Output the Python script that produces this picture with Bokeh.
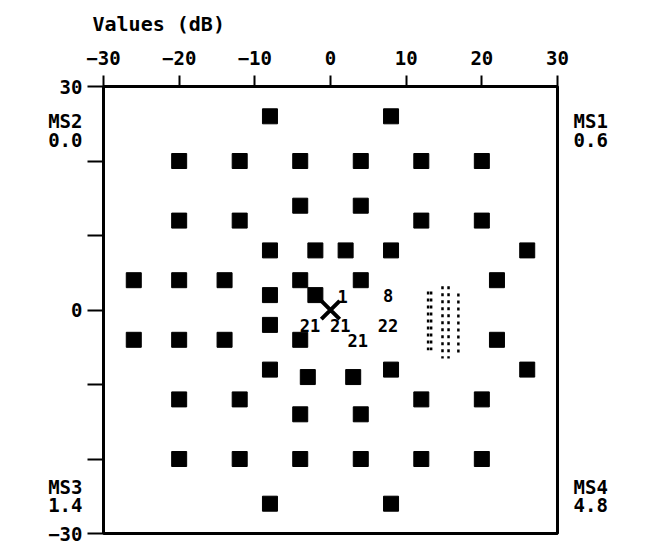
from bokeh.plotting import figure
from bokeh.models import Range1d, FixedTicker, LinearAxis
from bokeh.embed import file_html
from bokeh.resources import INLINE
from bokeh.core.properties import value

# ---- data ----
title_text = "Values (dB)"
x_ticks = [-30, -20, -10, 0, 10, 20, 30]
x_tick_labels = ["−30", "−20", "−10", "0", "10", "20", "30"]
y_ticks = [-30, -20, -10, 0, 10, 20, 30]
y_tick_labels = ["−30", "", "", "0", "", "", "30"]

point_x = [-8, 8,
           -20, -12, -4, 4, 12, 20,
           -4, 4,
           -20, -12, 12, 20,
           -8, -2, 2, 8, 26,
           -26, -20, -14, -4, 4, 22,
           -8, -2,
           -8,
           -26, -20, -14, -4, 22,
           -8, 8, 26,
           -3, 3,
           -20, -12, 12, 20,
           -4, 4,
           -20, -12, -4, 4, 12, 20,
           -8, 8]
point_y = [26, 26,
           20, 20, 20, 20, 20, 20,
           14, 14,
           12, 12, 12, 12,
           8, 8, 8, 8, 8,
           4, 4, 4, 4, 4, 4,
           2, 2,
           -2,
           -4, -4, -4, -4, -4,
           -8, -8, -8,
           -9, -9,
           -12, -12, -12, -12,
           -14, -14,
           -20, -20, -20, -20, -20, -20,
           -26, -26]

label_text = ["1", "8", "21", "21", "22", "21"]
label_x = [1.6, 7.6, -2.7, 1.3, 7.6, 3.6]
label_y = [1.8, 1.9, -2.1, -2.1, -2.1, -4.1]

cross_x = [0]
cross_y = [0]

region_x = [12.9, 13.3, 14.8, 15.6, 16.9]
region_y0 = [2.5, 2.5, 3.2, 3.2, 2.2]
region_y1 = [-5.4, -5.4, -6.5, -6.5, -5.7]

ms_names = ["MS1", "MS2", "MS3", "MS4"]
ms_values = ["0.6", "0.0", "1.4", "4.8"]

FONT = "DejaVu Sans Mono"

p = figure(width=644, height=544, output_backend="svg", toolbar_location=None,
           x_range=Range1d(-30, 30), y_range=Range1d(-30, 30),
           x_axis_location="above", y_axis_location="left",
           min_border_left=103, min_border_right=87, min_border_top=86,
           min_border_bottom=11)
p.background_fill_color = "white"
p.border_fill_color = "white"
p.outline_line_color = "black"
p.outline_line_width = 3
p.xgrid.visible = False
p.ygrid.visible = False

p.title.text = title_text
p.title.text_font = FONT
p.title.text_font_size = "20px"
p.title.text_font_style = "bold"
p.title.text_color = "black"
p.title.align = "left"
p.title.vertical_align = "top"
p.title.offset = -11
p.title.standoff = 19

xa = p.xaxis[0]
xa.ticker = FixedTicker(ticks=x_ticks)
xa.major_label_overrides = {t: l for t, l in zip(x_ticks, x_tick_labels)}
xa.axis_line_width = 3
xa.major_tick_line_width = 2
xa.major_tick_out = 11
xa.major_tick_in = 0
xa.minor_tick_out = 0
xa.minor_tick_in = 0
xa.major_label_standoff = 11
xa.major_label_text_font = FONT
xa.major_label_text_font_size = "19px"
xa.major_label_text_font_style = "bold"
xa.major_label_text_color = "black"

# inner left axis: line and tick marks only
ya = p.yaxis[0]
ya.ticker = FixedTicker(ticks=y_ticks)
ya.major_label_overrides = {t: "" for t in y_ticks}
ya.axis_line_width = 3
ya.major_tick_line_width = 2
ya.major_tick_out = 16
ya.major_tick_in = 0
ya.minor_tick_out = 0
ya.minor_tick_in = 0
ya.major_label_standoff = 0
ya.major_label_text_font_size = "1px"

# corner annotations: name above value, carried by label-only axes in the margins
name_y_top, value_y_top = 25.4, 22.8
name_y_bot, value_y_bot = -23.7, -26.2
left_label_ticks = list(y_ticks) + [name_y_top, value_y_top, name_y_bot, value_y_bot]
left_label_texts = list(y_tick_labels) + [ms_names[1], ms_values[1], ms_names[2], ms_values[2]]
right_label_ticks = [name_y_top, value_y_top, name_y_bot, value_y_bot]
right_label_texts = [ms_names[0], ms_values[0], ms_names[3], ms_values[3]]


def label_axis(ticks, texts, standoff):
    ax = LinearAxis(ticker=FixedTicker(ticks=ticks),
                    major_label_overrides={t: s for t, s in zip(ticks, texts)})
    ax.axis_line_color = None
    ax.major_tick_line_color = None
    ax.minor_tick_line_color = None
    ax.major_tick_out = 0
    ax.major_tick_in = 0
    ax.minor_tick_out = 0
    ax.minor_tick_in = 0
    ax.major_label_standoff = standoff
    ax.major_label_text_font = FONT
    ax.major_label_text_font_size = "19px"
    ax.major_label_text_font_style = "bold"
    ax.major_label_text_color = "black"
    return ax


p.add_layout(label_axis(left_label_ticks, left_label_texts, 5), "left")
p.add_layout(label_axis(right_label_ticks, right_label_texts, 16), "right")

p.scatter(point_x, point_y, marker="square", size=15, fill_color="black",
          line_color="black")

p.scatter(cross_x, cross_y, marker="x", size=26, line_color="black", line_width=4)

p.text(label_x, label_y, text=label_text, text_font=value(FONT),
       text_font_size="17px", text_font_style="bold", text_align="center",
       text_baseline="middle", text_color="black")

p.segment(x0=region_x, y0=region_y0, x1=region_x, y1=region_y1,
          line_color="black", line_width=2.5, line_dash="3 4")

open("out.html", "w").write(file_html(p, INLINE))
